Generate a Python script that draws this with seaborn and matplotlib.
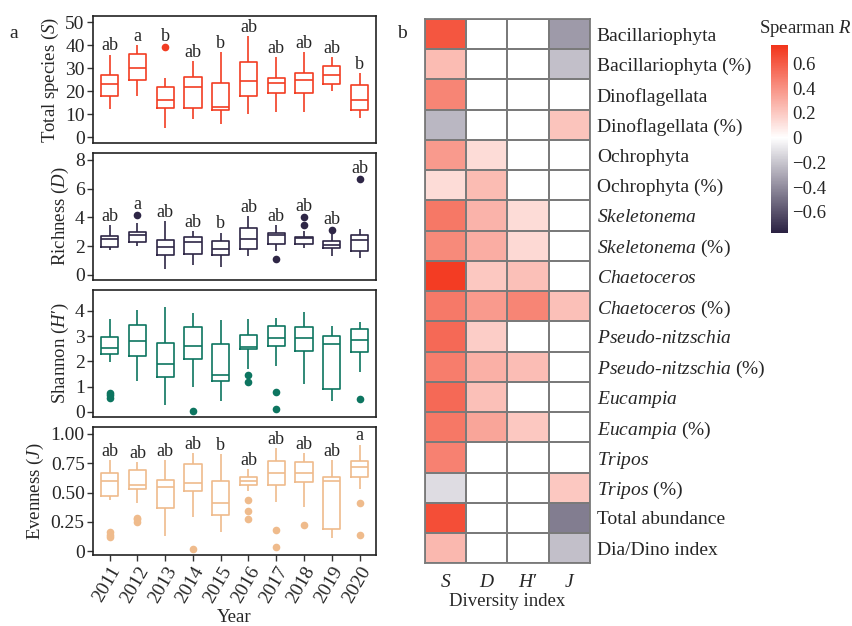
import numpy as np
import pandas as pd
import matplotlib
matplotlib.use("Agg")
import matplotlib.pyplot as plt
import seaborn as sns
from matplotlib.colors import LinearSegmentedColormap

years = ["2011", "2012", "2013", "2014", "2015", "2016", "2017", "2018", "2019", "2020"]

# --- Total species (S): whisker low, Q1, median, Q3, whisker high ---
S_lo = [12.2, 18.1, 4.0, 8.1, 5.9, 10.1, 11.1, 11.1, 20.3, 8.3]
S_q1 = [18.0, 24.9, 12.9, 12.9, 11.9, 18.1, 19.3, 19.1, 23.0, 11.9]
S_med = [23.0, 30.1, 16.2, 22.0, 13.0, 24.6, 23.5, 25.0, 27.1, 16.2]
S_q3 = [27.0, 36.2, 22.0, 26.4, 23.5, 32.6, 25.9, 28.1, 31.0, 22.9]
S_hi = [36.0, 40.0, 25.9, 33.0, 37.0, 44.2, 34.8, 37.1, 34.8, 27.8]
S_out_year = ["2013"]
S_out_val = [39.1]
S_letters = ["ab", "a", "b", "ab", "b", "ab", "ab", "ab", "ab", "b"]

# --- Richness (D) ---
D_lo = [1.70, 1.97, 0.42, 0.65, 0.53, 1.32, 1.69, 1.86, 1.32, 1.16]
D_q1 = [1.92, 2.30, 1.39, 1.46, 1.37, 1.81, 2.16, 2.13, 1.83, 1.67]
D_med = [2.48, 2.78, 1.90, 2.30, 1.81, 2.48, 2.80, 2.55, 2.09, 2.43]
D_q3 = [2.71, 2.99, 2.43, 2.62, 2.34, 3.29, 2.88, 2.64, 2.32, 2.78]
D_hi = [3.48, 3.60, 3.76, 3.06, 2.94, 4.06, 3.48, 3.06, 2.83, 3.18]
D_out_year = ["2012", "2017", "2018", "2018", "2019", "2020"]
D_out_val = [4.17, 1.09, 3.99, 3.48, 3.11, 6.68]
D_letters = ["ab", "a", "ab", "ab", "b", "ab", "ab", "ab", "ab", "ab"]

# --- Shannon (H') ---
H_lo = [1.99, 1.24, 0.26, 1.00, 0.42, 1.70, 1.82, 1.11, 0.45, 1.60]
H_q1 = [2.30, 2.23, 1.39, 2.10, 1.23, 2.48, 2.61, 2.43, 0.91, 2.38]
H_med = [2.55, 2.81, 1.89, 2.63, 1.45, 2.59, 2.94, 2.92, 2.71, 2.84]
H_q3 = [2.97, 3.43, 2.73, 3.35, 2.68, 3.05, 3.41, 3.35, 3.01, 3.29]
H_hi = [3.67, 4.04, 4.17, 3.91, 3.64, 3.67, 3.71, 3.97, 3.39, 3.58]
H_out_year = ["2011", "2011", "2011", "2014", "2016", "2016", "2017", "2017", "2020"]
H_out_val = [0.77, 0.66, 0.56, 0.05, 1.47, 1.20, 0.80, 0.13, 0.51]

# --- Evenness (J) ---
J_lo = [0.44, 0.41, 0.13, 0.29, 0.16, 0.515, 0.415, 0.38, 0.11, 0.53]
J_q1 = [0.47, 0.53, 0.37, 0.51, 0.31, 0.56, 0.56, 0.59, 0.185, 0.63]
J_med = [0.60, 0.56, 0.55, 0.58, 0.41, 0.60, 0.67, 0.67, 0.60, 0.72]
J_q3 = [0.67, 0.69, 0.61, 0.74, 0.60, 0.63, 0.77, 0.76, 0.635, 0.77]
J_hi = [0.78, 0.76, 0.78, 0.835, 0.83, 0.70, 0.88, 0.84, 0.78, 0.91]
J_out_year = ["2011", "2011", "2011", "2012", "2012", "2012", "2014", "2016", "2016",
              "2016", "2017", "2017", "2018", "2020", "2020"]
J_out_val = [0.165, 0.14, 0.12, 0.28, 0.27, 0.25, 0.015, 0.436, 0.345,
             0.27, 0.18, 0.037, 0.22, 0.41, 0.137]
J_letters = ["ab", "ab", "ab", "ab", "b", "ab", "ab", "ab", "ab", "a"]

# --- Spearman R heatmap ---
groups = ["Bacillariophyta", "Bacillariophyta (%)", "Dinoflagellata", "Dinoflagellata (%)",
          "Ochrophyta", "Ochrophyta (%)", "Skeletonema", "Skeletonema (%)",
          "Chaetoceros", "Chaetoceros (%)", "Pseudo-nitzschia", "Pseudo-nitzschia (%)",
          "Eucampia", "Eucampia (%)", "Tripos", "Tripos (%)", "Total abundance", "Dia/Dino index"]
group_labels = ["Bacillariophyta", "Bacillariophyta (%)", "Dinoflagellata", "Dinoflagellata (%)",
                "Ochrophyta", "Ochrophyta (%)", r"$\mathit{Skeletonema}$", r"$\mathit{Skeletonema}$ (%)",
                r"$\mathit{Chaetoceros}$", r"$\mathit{Chaetoceros}$ (%)",
                r"$\mathit{Pseudo}$-$\mathit{nitzschia}$", r"$\mathit{Pseudo}$-$\mathit{nitzschia}$ (%)",
                r"$\mathit{Eucampia}$", r"$\mathit{Eucampia}$ (%)", r"$\mathit{Tripos}$",
                r"$\mathit{Tripos}$ (%)", "Total abundance", "Dia/Dino index"]
index_labels = ["$S$", "$D$", "$H$\u2032", "$J$"]
R_S = [0.62, 0.25, 0.45, -0.25, 0.37, 0.13, 0.50, 0.43, 0.72, 0.49, 0.55, 0.48, 0.55, 0.50, 0.46, -0.12, 0.65, 0.26]
R_D = [0, 0, 0, 0, 0.13, 0.25, 0.28, 0.30, 0.20, 0.37, 0.18, 0.29, 0.23, 0.33, 0, 0, 0, 0]
R_H = [0, 0, 0, 0, 0, 0, 0.13, 0.14, 0.23, 0.45, 0, 0.24, 0, 0.20, 0, 0, 0, 0]
R_J = [-0.35, -0.22, 0, 0.22, 0, 0, 0, 0, 0, 0.23, 0, 0, 0, 0, 0, 0.20, -0.45, -0.22]
cbar_ticks = [-0.6, -0.4, -0.2, 0, 0.2, 0.4, 0.6]
cbar_ticklabels = ["\u22120.6", "\u22120.4", "\u22120.2", "0", "0.2", "0.4", "0.6"]

sns.set_theme(style="ticks")
plt.rcParams["font.family"] = ["Liberation Serif", "DejaVu Serif"]
plt.rcParams["mathtext.fontset"] = "custom"
plt.rcParams["mathtext.rm"] = "Liberation Serif"
plt.rcParams["mathtext.it"] = "Liberation Serif:italic"

FS = 13.5

fig = plt.figure(figsize=(8.53, 6.26), dpi=100)

panels = [
    dict(lo=S_lo, q1=S_q1, med=S_med, q3=S_q3, hi=S_hi, oy=S_out_year, ov=S_out_val,
         letters=S_letters, color="#f23d22", ylabel="Total species ($S$)",
         ylim=(-2.6, 52.9), ticks=[0, 10, 20, 30, 40, 50], tlabels=None, rect=[0.109, 0.771, 0.332, 0.204]),
    dict(lo=D_lo, q1=D_q1, med=D_med, q3=D_q3, hi=D_hi, oy=D_out_year, ov=D_out_val,
         letters=D_letters, color="#2e2646", ylabel="Richness ($D$)",
         ylim=(-0.35, 8.47), ticks=[0, 2, 4, 6, 8], tlabels=None, rect=[0.109, 0.553, 0.332, 0.2025]),
    dict(lo=H_lo, q1=H_q1, med=H_med, q3=H_q3, hi=H_hi, oy=H_out_year, ov=H_out_val,
         letters=None, color="#0d7560", ylabel="Shannon ($H$\u2032)",
         ylim=(-0.21, 4.83), ticks=[0, 1, 2, 3, 4], tlabels=None, rect=[0.109, 0.3334, 0.332, 0.2034]),
    dict(lo=J_lo, q1=J_q1, med=J_med, q3=J_q3, hi=J_hi, oy=J_out_year, ov=J_out_val,
         letters=J_letters, color="#efbb8c", ylabel="Evenness ($J$)",
         ylim=(-0.034, 1.057), ticks=[0, 0.25, 0.5, 0.75, 1.0],
         tlabels=["0", "0.25", "0.50", "0.75", "1.00"], rect=[0.109, 0.1134, 0.332, 0.204]),
]

for i, p in enumerate(panels):
    ax = fig.add_axes(p["rect"])
    rows = []
    for k, y in enumerate(years):
        for v in (p["lo"][k], p["q1"][k], p["med"][k], p["q3"][k], p["hi"][k]):
            rows.append({"year": y, "value": v})
    box_df = pd.DataFrame(rows)
    sns.boxplot(data=box_df, x="year", y="value", order=years, color=p["color"], fill=False,
                width=0.62, whis=np.inf, showfliers=False, showcaps=False, linewidth=1.2, ax=ax)
    out_df = pd.DataFrame({"year": p["oy"], "value": p["ov"]})
    sns.stripplot(data=out_df, x="year", y="value", order=years, color=p["color"], jitter=False,
                  size=5.5, linewidth=0, ax=ax)
    if p["letters"] is not None:
        for k, y in enumerate(years):
            top = p["hi"][k]
            extra = 0
            outs = [v for yy, v in zip(p["oy"], p["ov"]) if yy == y]
            if outs and max(outs) > top:
                top = max(outs)
                extra = 1.5
            ax.annotate(p["letters"][k], (k, top), xytext=(0, 3 + extra), textcoords="offset points",
                        ha="center", va="baseline", fontsize=13)
    ax.set_xlim(-0.6, 9.6)
    ax.set_ylim(*p["ylim"])
    ax.set_yticks(p["ticks"])
    if p["tlabels"] is not None:
        ax.set_yticklabels(p["tlabels"])
    ax.set_ylabel(p["ylabel"], fontsize=FS, labelpad=3)
    ax.tick_params(axis="y", labelsize=FS + 0.5, length=4, width=1, color="#333333", pad=2)
    for s in ax.spines.values():
        s.set_visible(True)
        s.set_linewidth(1.2)
        s.set_color("#222222")
    if i < 3:
        ax.set_xticks([])
        ax.set_xlabel("")
    else:
        ax.set_xlabel("Year", fontsize=FS, labelpad=2)
        ax.tick_params(axis="x", labelsize=FS + 0.5, length=4, width=1, color="#333333", pad=2)
        plt.setp(ax.get_xticklabels(), rotation=60, ha="right", rotation_mode="anchor")

# heatmap
heat_df = pd.DataFrame({"S": R_S, "D": R_D, "H": R_H, "J": R_J}, index=groups)
vmin, vmax = -0.77, 0.75
mid = (0 - vmin) / (vmax - vmin)
cmap = LinearSegmentedColormap.from_list("spear", [(0, "#2b2243"), (mid, "#ffffff"), (1, "#f2341a")])

hax = fig.add_axes([0.4982, 0.1002, 0.1934, 0.8695])
cax = fig.add_axes([0.9039, 0.6283, 0.0196, 0.2998])
sns.heatmap(heat_df, cmap=cmap, vmin=vmin, vmax=vmax, linewidths=1.3, linecolor="#7a7a7a",
            cbar_ax=cax, ax=hax)
for s in hax.spines.values():
    s.set_visible(True)
    s.set_color("#7a7a7a")
    s.set_linewidth(1.3)
hax.yaxis.tick_right()
hax.set_yticklabels(group_labels, rotation=0, fontsize=14)
hax.set_xticklabels(index_labels, rotation=0, fontsize=14)
hax.tick_params(axis="y", length=0, pad=5)
hax.tick_params(axis="x", length=0, pad=8)
hax.set_xlabel("Diversity index", fontsize=FS, labelpad=1)
hax.set_ylabel("")

cbar = hax.collections[0].colorbar
cbar.set_ticks(cbar_ticks)
cbar.set_ticklabels(cbar_ticklabels)
cbar.ax.tick_params(length=0, labelsize=FS, pad=3)
cbar.outline.set_visible(False)
cax.text(2.05, 1.09, "Spearman $R$", transform=cax.transAxes, ha="center", va="center", fontsize=FS)

fig.text(0.011, 0.939, "a", fontsize=14)
fig.text(0.465, 0.939, "b", fontsize=14)

fig.savefig("out.png", dpi=100)
